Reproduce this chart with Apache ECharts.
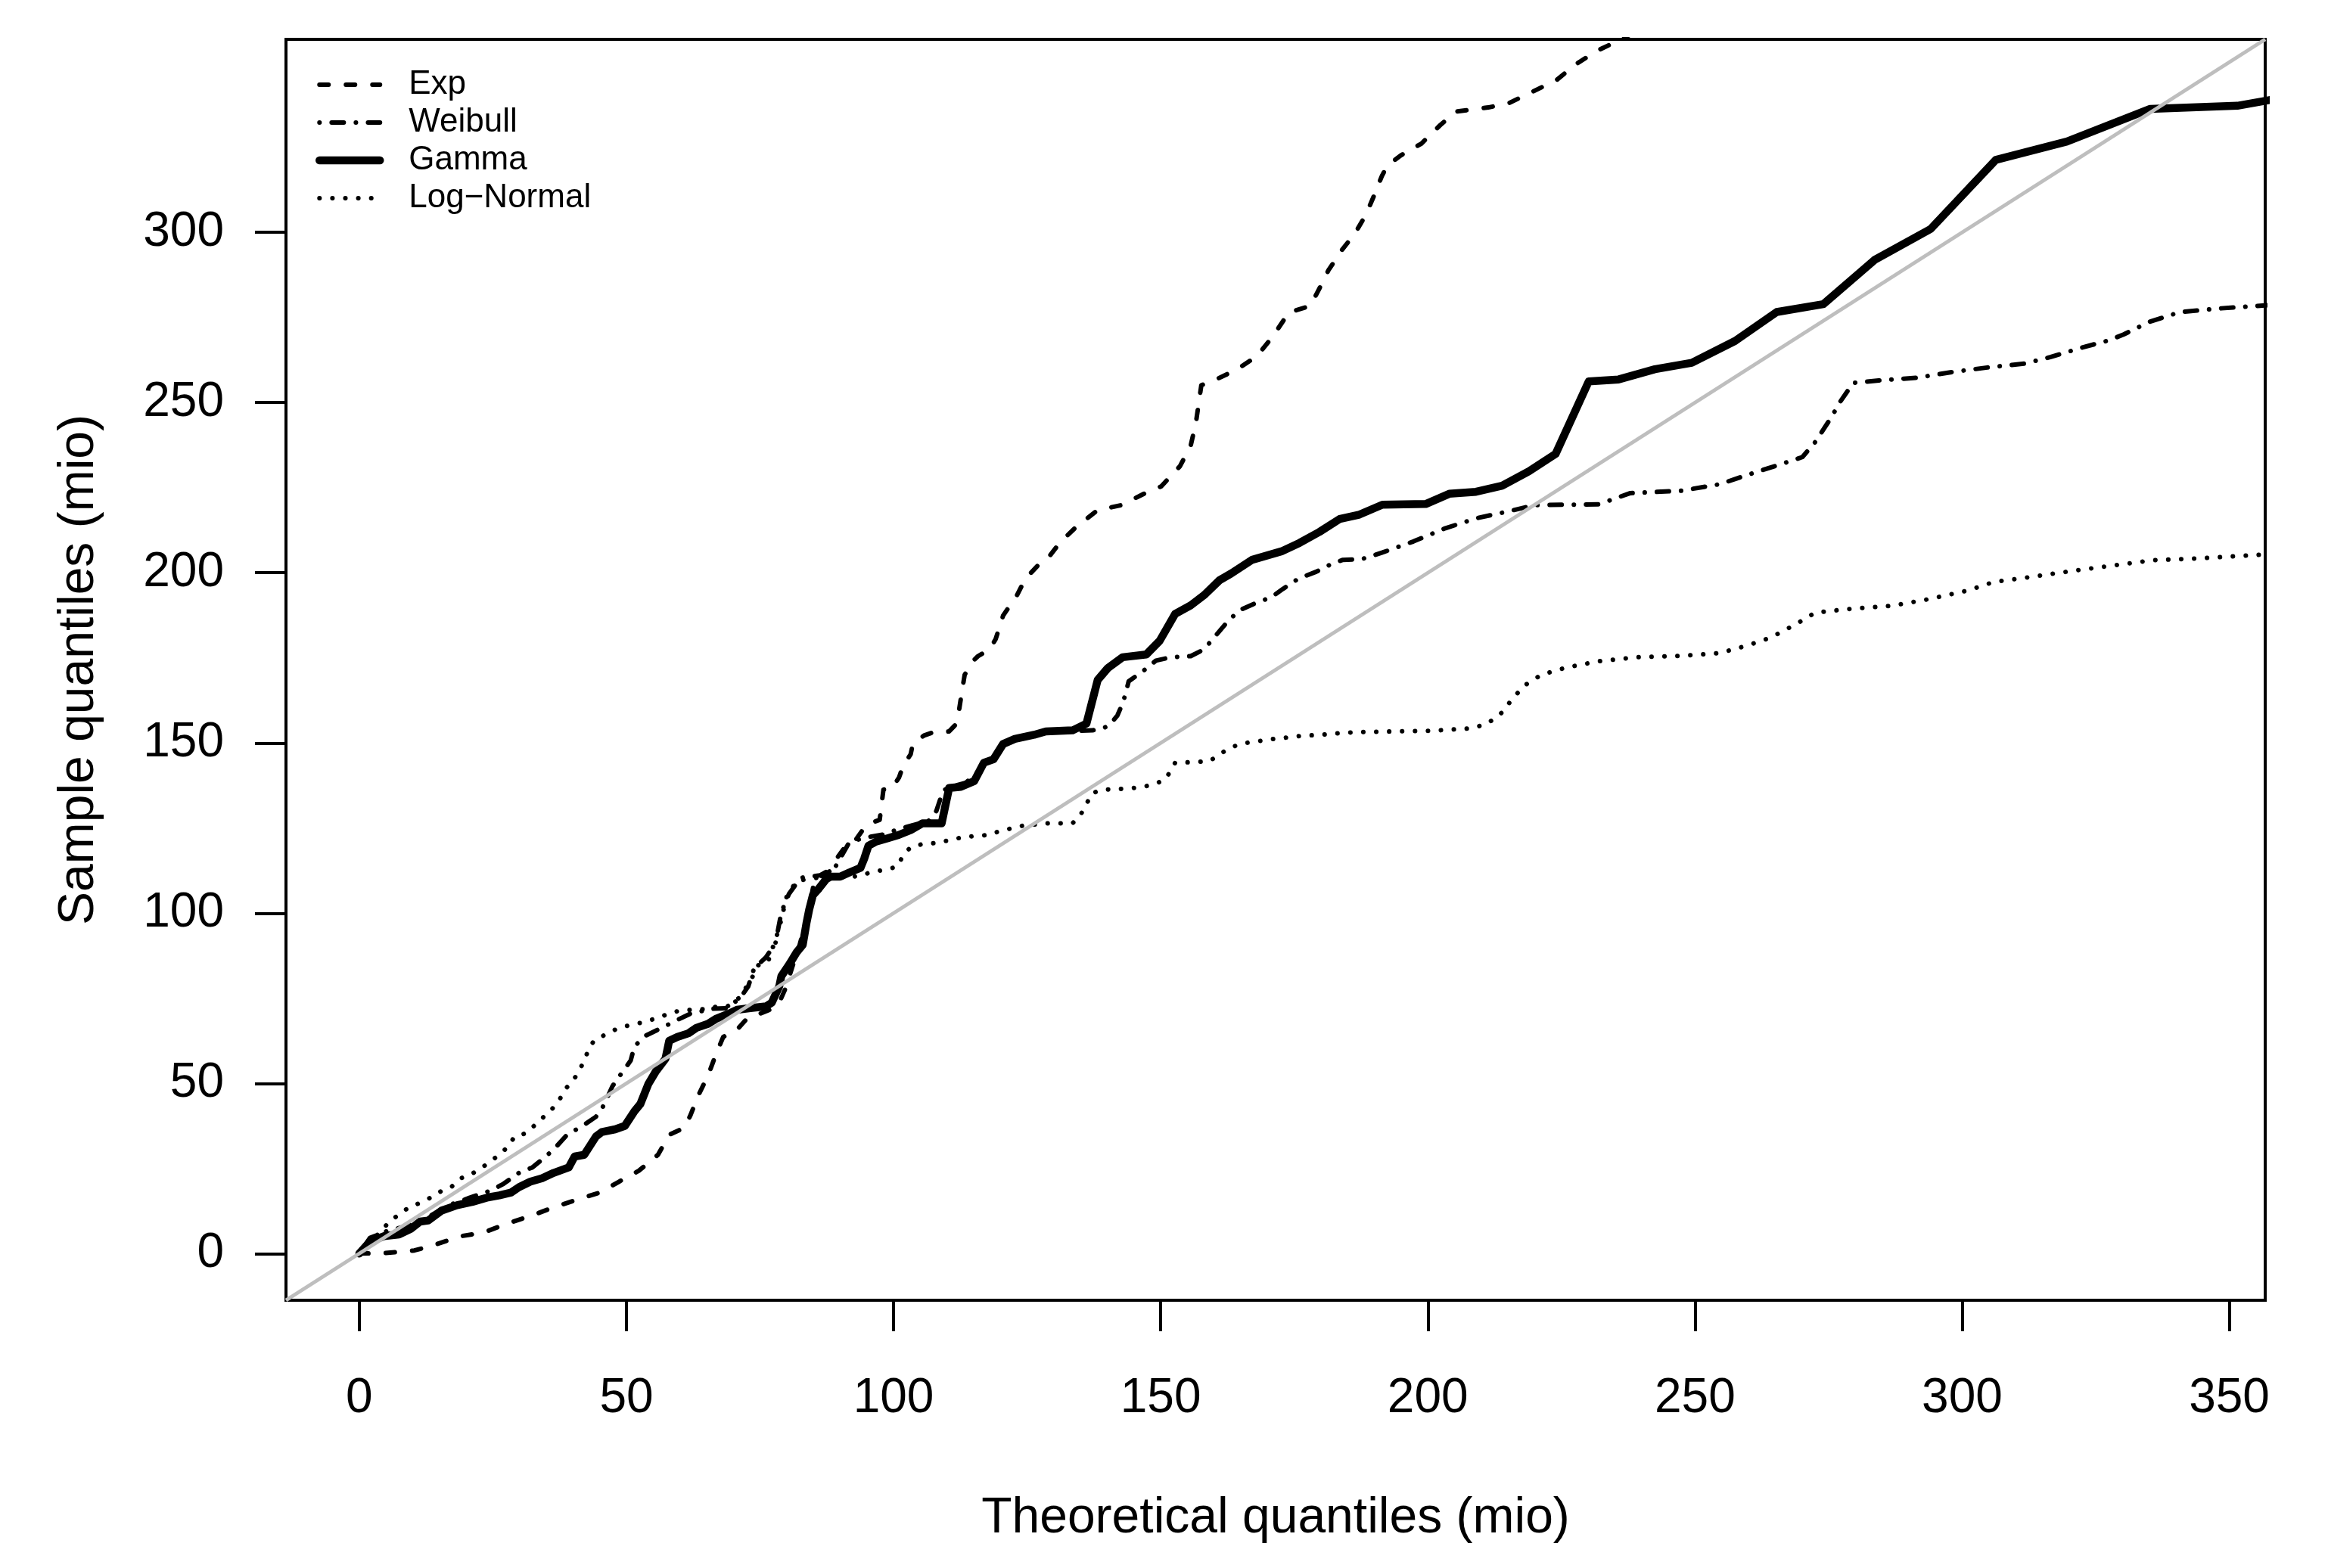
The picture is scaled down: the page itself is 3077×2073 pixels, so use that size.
<!DOCTYPE html>
<html><head><meta charset="utf-8">
<script src="https://cdn.jsdelivr.net/npm/echarts@6/dist/echarts.min.js"></script>
<style>html,body{margin:0;padding:0;background:#fff}#c{width:3077px;height:2073px}</style>
</head><body><div id="c"></div>
<script>
// ---- tick labels / axis limits ----
const xTicks = [0, 50, 100, 150, 200, 250, 300, 350];
const yTicks = [0, 50, 100, 150, 200, 250, 300];
const axisRange = [-13.72, 356.72];

// ---- series: [theoretical quantile, sample quantile] (mio) ----
const expQ = [[0,0],[4.6,0.1],[10.3,0.9],[14,2.5],[19,5.1],[23.3,6.2],[27.7,8.8],[32,11],[36.4,13.6],[40.7,15.8],[45,17.9],[48.6,21.1],[52.3,24.3],[55.9,29],[58,34.9],[60.9,37],[62,40.7],[63.5,46.6],[65.3,52.4],[66.7,58.3],[68.1,63.6],[71,66.3],[72.5,68.9],[76.8,71.6],[78.6,73.7],[79.8,78],[81,84],[82.3,90],[83.5,97],[84.5,104],[85.3,110.5],[86.9,111],[88.2,112.5],[89.1,115.5],[90.9,119.4],[92.4,120.4],[94.2,124.4],[95.6,126.4],[97.4,127.4],[98.1,136.3],[99.6,136.5],[101,139.8],[101.8,143.3],[103.2,146.7],[103.6,149.7],[105.7,152.2],[107.5,153.2],[110.4,153.4],[111.5,155.2],[112.2,159.1],[112.6,163.1],[113.3,170],[114.8,174],[115.8,175.5],[118,177.5],[119.1,180.5],[120.5,187.4],[122,190.9],[123.1,193.4],[124.2,196.8],[125.6,199.8],[127.4,202.8],[128.9,204.3],[131.2,209],[134.2,213.5],[138.2,218.4],[142.7,219.9],[147.1,223.4],[150.1,225.4],[153.6,231.3],[155.6,237.3],[156.6,244.2],[157.6,255.1],[160.1,256.6],[164.1,259.6],[168,263.6],[171,269.5],[174,276.5],[178,278.4],[179.5,282.9],[181.4,288.9],[183.9,294.8],[186.4,299.8],[188.4,305.2],[189.9,310.7],[191.4,316.6],[192.4,319.6],[194.9,322.6],[198.8,326.1],[202.3,331.5],[205.3,335.5],[211.3,336.7],[215.2,338],[219.7,341.4],[224.2,344.9],[227.7,349.4],[231.6,353.3],[235.6,356.3],[239,359]];

const weibullQ = [[0,0],[2,4.6],[5,6.5],[8.2,7.8],[12.5,10.4],[16.8,14.2],[20.5,16.3],[24.8,18.6],[27,20.5],[29.9,23.7],[32.4,25.3],[34.9,28.5],[36.4,30.6],[38.9,34.9],[41.8,37.5],[44.3,40.2],[45.7,43.4],[47.4,49.2],[48.6,51.9],[50.8,56.7],[51.5,60.9],[53.7,64.1],[56.6,66.3],[59.5,68.6],[62,70.5],[66,71.9],[68.9,72.1],[71.4,75.3],[72.8,78.5],[73.9,83.8],[76.1,87],[77.9,91.2],[79,100.3],[80.4,105.6],[82.6,110.4],[86.2,111.1],[89.1,113.6],[91.6,120.5],[94.2,122.1],[98.1,123.1],[101,124.7],[103.5,125.8],[106.5,127],[108,130],[109.3,136.1],[111,137.2],[113.5,138.3],[115.5,141],[116.5,144],[118.5,145.2],[120.3,149.5],[122.5,151.2],[126,152.5],[128.5,153.4],[134,153.6],[137.2,153.7],[139,154.2],[140.4,155.2],[141.9,158.1],[143,162.1],[144,168.1],[146.6,171],[149.1,174.2],[152,175.2],[155.6,175.5],[158.1,177.5],[162.1,184.9],[164.6,188.9],[167.5,190.9],[170.8,192.9],[172.9,195.3],[175.8,198.3],[179.1,200.3],[182,202.6],[184.1,203.8],[187.6,204],[191.4,205.9],[197.3,209.2],[203.3,213.1],[209.3,216.1],[215.2,218.1],[220,219.9],[231.9,220.1],[237.9,223.4],[247.4,224.1],[254.6,226],[259.3,228.5],[265.3,231.5],[270.1,234],[272.5,238.4],[275.4,245.4],[277.2,250.3],[279.6,255.8],[284.4,256.5],[291.5,257.3],[298.7,259.1],[304.7,260.3],[311.8,261.5],[316.6,263.4],[322.5,266.2],[327.3,268.2],[330.2,270],[335.2,273.8],[340.8,276.6],[347.6,277.6],[358,278.7]];

const gammaQ = [[0,0],[0.2,0.3],[2,3.5],[4.6,5.1],[7.45,5.6],[9.6,7.2],[11.4,9.4],[12.9,9.7],[15.4,12.6],[18.3,14.2],[21.2,15.2],[24.1,16.5],[26.2,17.1],[28.4,17.9],[29.9,19.5],[32,21.1],[34.2,22.1],[36.4,23.7],[39.2,25.3],[40.3,28.5],[42.1,29],[44.3,34.4],[45.4,35.7],[47.9,36.5],[49.7,37.5],[51.5,41.8],[52.6,43.9],[54.1,49.8],[55.5,53.5],[57.3,57.2],[58,62.5],[59.5,63.6],[61.6,64.7],[63.1,66.3],[65.3,67.5],[66.7,68.9],[68.9,70.3],[70.7,71.6],[73.2,72.1],[76.1,72.6],[77.2,73.7],[78.6,78.5],[79,81.5],[80.5,85],[81.9,88.6],[83,90.7],[83.7,97.1],[84.2,101],[84.9,105.3],[86,107.2],[87.4,110],[88.2,110.7],[90,110.7],[91.8,112],[93.8,113.3],[94.5,116],[95.3,119.8],[96.7,121],[98.9,122],[101,123],[103.2,124.4],[105.4,126.4],[109,126.4],[110.4,136.8],[112.6,137.1],[115.1,138.8],[116.9,144.2],[118.7,145.2],[120.5,149.7],[122.7,151.2],[126.3,152.4],[128.5,153.4],[133.5,153.7],[136.1,155.7],[138.2,168.5],[140.1,172],[142.9,175.2],[147.3,176],[149.8,180],[152.7,187.9],[155.6,190.4],[158.1,193.4],[161,197.8],[163.2,199.8],[167.1,203.8],[172.6,206.3],[176,208.8],[179.7,212],[183.5,215.8],[187.2,217.1],[191.5,220],[199.6,220.2],[204,223.2],[209,223.8],[213.9,225.6],[218.9,229.8],[223.9,234.9],[230.1,256.2],[235.7,256.8],[242.5,259.8],[249.4,261.7],[257.5,268.1],[265.3,276.6],[274,278.9],[283.6,291.9],[294.1,301],[306.3,321.3],[319.6,326.7],[335.2,336.3],[351.5,337.2],[358,339]];

const lognormQ = [[0,0],[2,3.5],[4.2,6.7],[5.6,9.4],[7.5,11.5],[9.3,13.6],[11.1,14.7],[13.2,16.3],[15.4,18.4],[17.2,19.5],[19,22.1],[20.8,23.2],[22.6,24.8],[24.4,26.9],[26.2,29],[27.7,31.2],[29.1,34.4],[31.3,35.4],[32.7,37.5],[34.2,39.7],[36,42.3],[37.4,45],[38.5,48.2],[40,50.8],[41.1,53.5],[42.1,56.7],[42.9,59.9],[43.9,62.5],[46.5,64.7],[48.6,66.3],[51.2,67.3],[53,67.9],[55.1,68.9],[57.7,70.3],[59.8,71.3],[62,71.6],[64.5,71.8],[67.1,72.6],[68.9,72.6],[71,75],[73,79.5],[74.7,84.7],[76.5,85.7],[78.6,95.6],[80.1,105.6],[82,109.5],[85,110.3],[88,110.6],[91.3,110.5],[93.8,111],[96.3,112.3],[98.5,112.7],[100.7,113.7],[101.8,117],[103.2,119.4],[105.7,120.4],[107.9,120.6],[110.4,121.4],[112.6,122.2],[114.8,122.6],[117.3,122.9],[119.5,123.9],[122,124.9],[124.2,125.7],[128.9,126.4],[133.5,126.4],[135,128.9],[136.1,132.1],[137.2,135.3],[139.3,136.3],[144,136.6],[146.6,137.1],[148.7,137.8],[150.9,139.3],[152.7,144.2],[156.7,144.4],[159.2,144.7],[161,146.7],[163.2,148.7],[165.3,149.9],[167.9,150.4],[170,151],[173,151.5],[176.9,152.2],[179.5,152.3],[182,152.7],[186.6,153.2],[193.8,153.4],[200.9,153.6],[208.1,154.3],[211.1,155.6],[214,159.1],[215.8,163],[218.2,167],[221.2,170],[226,172.2],[231.9,174],[239.1,175.2],[247.4,175.6],[254.6,176.4],[259.3,178.4],[264.1,180.9],[268.9,184.9],[272.5,188.3],[278.4,189.3],[286.8,190.3],[293.9,192.3],[301.1,194.8],[305.9,197.3],[313,198.8],[321.3,200.7],[328.5,202.2],[335.7,203.7],[344,204.2],[354.7,205.2],[358,205.5]];

const seriesNames = ['Exp', 'Weibull', 'Gamma', 'Log\u2212Normal'];
const identityLine = [[axisRange[0], axisRange[0]], [axisRange[1], axisRange[1]]];

const FONT = '"Liberation Sans", Arial, Helvetica, sans-serif';
const chart = echarts.init(document.getElementById('c'), null, {renderer: 'canvas'});

function axisCommon(ticks) {
  return {
    type: 'value', min: axisRange[0], max: axisRange[1],
    axisLine: {show: true, onZero: false, lineStyle: {color: '#000', width: 4}},
    axisTick: {show: true, length: 41, customValues: ticks, lineStyle: {color: '#000', width: 4}},
    axisLabel: {customValues: ticks, fontSize: 64, color: '#000', fontFamily: FONT},
    splitLine: {show: false},
    nameLocation: 'middle',
    nameTextStyle: {fontSize: 66, color: '#000', fontFamily: FONT}
  };
}
const xAx = axisCommon(xTicks);
xAx.name = 'Theoretical quantiles (mio)';
xAx.nameGap = 256;
xAx.axisLabel.margin = 98;
const yAx = axisCommon(yTicks);
yAx.name = 'Sample quantiles (mio)';
yAx.nameGap = 240;
yAx.nameRotate = 90;
yAx.axisLabel.margin = 82;

function lineSeries(name, data, width, dash) {
  return {
    type: 'line', name: name, data: data, symbol: 'none', showSymbol: false,
    clip: true, silent: true, z: 2,
    itemStyle: {color: '#000', opacity: 0},
    lineStyle: {color: '#000', width: width, type: dash, cap: 'round', join: 'round'},
    emphasis: {disabled: true}
  };
}

chart.setOption({
  animation: false,
  backgroundColor: '#fff',
  textStyle: {fontFamily: FONT},
  grid: {left: 378, right: 83, top: 52, bottom: 354, containLabel: false, outerBoundsMode: 'none',
         show: true, borderColor: '#000', borderWidth: 4, backgroundColor: 'transparent'},
  xAxis: xAx,
  yAxis: yAx,
  legend: {
    orient: 'vertical', left: 417, top: 87, padding: 0,
    itemWidth: 80, itemHeight: 20, itemGap: 0, selectedMode: false,
    itemStyle: {color: 'transparent', borderColor: 'transparent', borderWidth: 0, opacity: 0},
    lineStyle: {width: 'inherit', type: 'inherit', color: '#000', opacity: 1},
    textStyle: {fontSize: 44, lineHeight: 50, color: '#000', fontFamily: FONT, padding: [0, 0, 0, 33]},
    data: seriesNames
  },
  series: [
    lineSeries(seriesNames[0], expQ, 6, [12, 23]),
    lineSeries(seriesNames[1], weibullQ, 6, [0.1, 16, 16, 16]),
    lineSeries(seriesNames[2], gammaQ, 10.5, 'solid'),
    lineSeries(seriesNames[3], lognormQ, 6, [0.1, 17]),
    {type: 'line', name: 'identity', data: identityLine, symbol: 'none', clip: true, silent: true, z: 3,
     lineStyle: {color: '#BEBEBE', width: 5}, emphasis: {disabled: true}}
  ]
});
</script></body></html>
